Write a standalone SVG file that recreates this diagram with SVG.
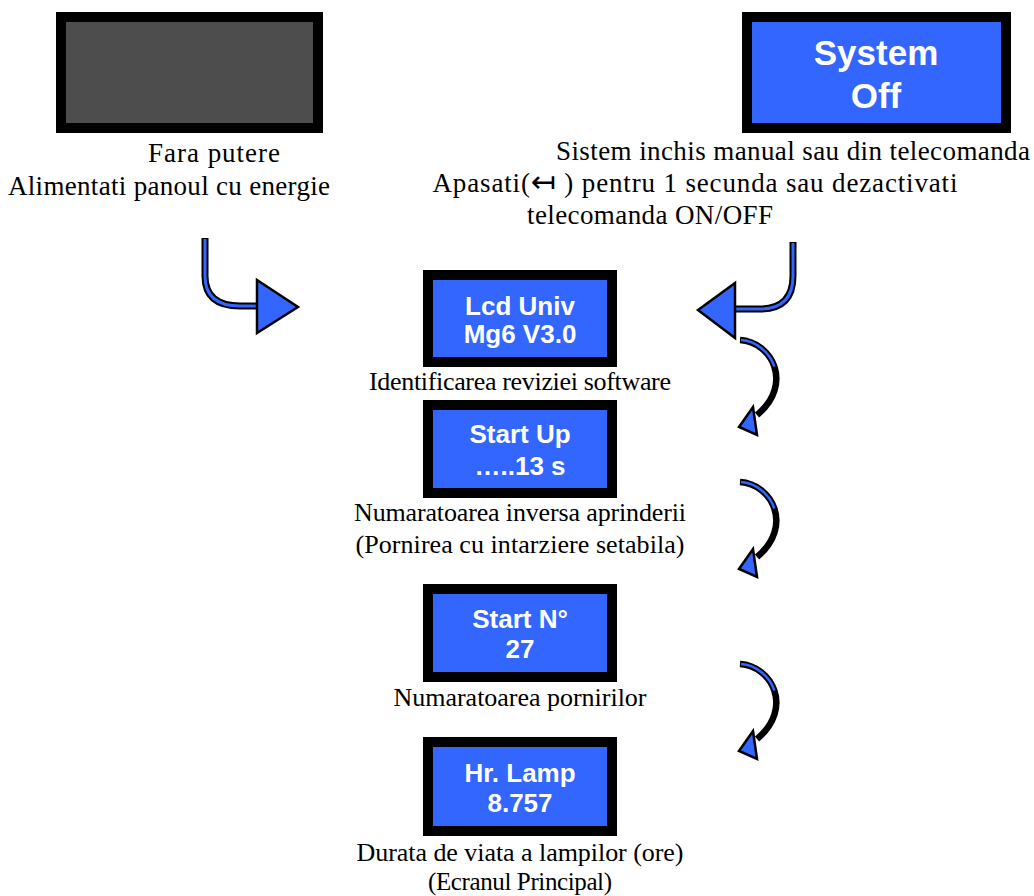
<svg xmlns="http://www.w3.org/2000/svg" width="1034" height="896" viewBox="0 0 1034 896">
<style>
.frame{fill:#000}
.lcd{fill:#3366ff}
.off{fill:#4d4d4d}
.lt{font-family:"Liberation Sans",Arial,sans-serif;font-weight:bold;font-size:26px;fill:#fff;text-anchor:middle}
.big{font-size:35px}
.cap{font-family:"Liberation Serif","Times New Roman",serif;font-size:26px;fill:#000;text-anchor:middle}
.capL{font-size:27px}
.stemO{fill:none;stroke:#000;stroke-width:7}
.stemI{fill:none;stroke:#3366ff;stroke-width:3}
.head{fill:#3366ff;stroke:#000;stroke-width:2.5;stroke-linejoin:miter}
.curlO{fill:none;stroke:#000;stroke-width:6.5;stroke-linecap:butt}
.curlI{fill:none;stroke:#3366ff;stroke-width:2.5}
</style>
<defs>
<g id="curl">
<path d="M0,1 C32,3 54,45 17,76" class="curlO"/>
<path d="M1,1 C16,2 29.5,13 34.4,27.6" class="curlI"/>
<polygon points="-1,88 13,68 17,96" class="head" stroke-width="3"/>
</g>
</defs>

<g id="node-nopower">
<rect x="56" y="12" width="267" height="121" class="frame"/>
<rect x="66" y="22" width="247" height="101" class="off"/>
<text x="214" y="162" class="cap capL" textLength="132" lengthAdjust="spacing">Fara putere</text>
<text x="169" y="195" class="cap capL" textLength="322" lengthAdjust="spacing">Alimentati panoul cu energie</text>
</g>

<g id="node-systemoff">
<rect x="742" y="12" width="269" height="121" class="frame"/>
<rect x="752" y="22" width="249" height="101" class="lcd"/>
<text x="876" y="65" class="lt big">System</text>
<text x="876" y="108" class="lt big">Off</text>
<text x="793" y="160" class="cap capL" textLength="474" lengthAdjust="spacing">Sistem inchis manual sau din telecomanda</text>
<text x="695" y="192" class="cap capL" textLength="525" lengthAdjust="spacing">Apasati(<tspan font-family="'DejaVu Sans',sans-serif" font-size="30">↤</tspan> ) pentru 1 secunda sau dezactivati</text>
<text x="650" y="224" class="cap capL" textLength="246" lengthAdjust="spacing">telecomanda ON/OFF</text>
</g>

<g id="node-lcd">
<rect x="423" y="270" width="194" height="97" class="frame"/>
<rect x="433" y="280" width="174" height="77" class="lcd"/>
<text x="520" y="315" class="lt">Lcd Univ</text>
<text x="520" y="343" class="lt">Mg6 V3.0</text>
<text x="520" y="390" class="cap" textLength="302" lengthAdjust="spacing">Identificarea reviziei software</text>
</g>

<g id="node-startup">
<rect x="423" y="400" width="194" height="98" class="frame"/>
<rect x="433" y="410" width="174" height="78" class="lcd"/>
<text x="520" y="443" class="lt">Start Up</text>
<text x="520" y="475" class="lt">…..13 s</text>
<text x="520" y="521" class="cap" textLength="332" lengthAdjust="spacing">Numaratoarea inversa aprinderii</text>
<text x="520" y="553" class="cap" textLength="329" lengthAdjust="spacing">(Pornirea cu intarziere setabila)</text>
</g>

<g id="node-startn">
<rect x="423" y="584" width="194" height="98" class="frame"/>
<rect x="433" y="594" width="174" height="78" class="lcd"/>
<text x="520" y="628" class="lt">Start N°</text>
<text x="520" y="658" class="lt">27</text>
<text x="520" y="706" class="cap" textLength="253" lengthAdjust="spacing">Numaratoarea pornirilor</text>
</g>

<g id="node-hrlamp">
<rect x="423" y="737" width="194" height="99" class="frame"/>
<rect x="433" y="747" width="174" height="79" class="lcd"/>
<text x="520" y="782" class="lt">Hr. Lamp</text>
<text x="520" y="812" class="lt">8.757</text>
<text x="520" y="861" class="cap" textLength="327" lengthAdjust="spacing">Durata de viata a lampilor (ore)</text>
<text x="520" y="890" class="cap" style="font-size:25px" textLength="184" lengthAdjust="spacing">(Ecranul Principal)</text>
</g>

<g id="connectors">
<path d="M205,238 V276 Q205,306 240,306 H258" class="stemO"/>
<path d="M205,239 V276 Q205,306 240,306 H258" class="stemI"/>
<polygon points="257,280 298,307 257,333" class="head"/>
<path d="M793,242 V276 Q793,309 760,309 H734" class="stemO"/>
<path d="M793,243 V276 Q793,309 760,309 H734" class="stemI"/>
<polygon points="735,283 698,310 735,338" class="head"/>
<use href="#curl" x="740" y="339"/>
<use href="#curl" x="740" y="481"/>
<use href="#curl" x="740" y="663"/>
</g>
</svg>
